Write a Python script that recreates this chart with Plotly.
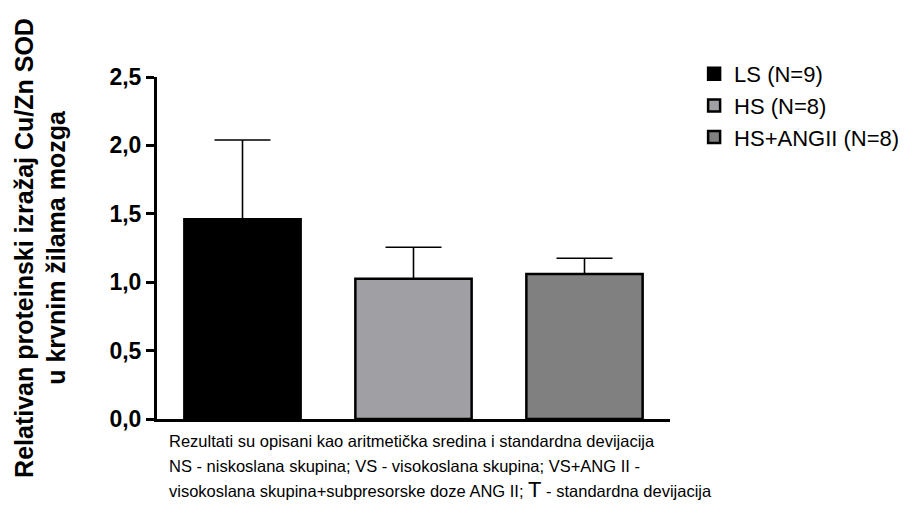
import plotly.graph_objects as go

groups = ["LS (N=9)", "HS (N=8)", "HS+ANGII (N=8)"]
categories = ["LS", "HS", "HS+ANGII"]
means = [1.46, 1.025, 1.06]
sds = [0.58, 0.23, 0.115]
colors = ["#000000", "#a0a0a4", "#808080"]
yticks = [0.0, 0.5, 1.0, 1.5, 2.0, 2.5]
caption_lines = [
    "Rezultati su opisani kao aritmetička sredina i standardna devijacija",
    "NS - niskoslana skupina; VS - visokoslana skupina; VS+ANG II -",
    "visokoslana skupina+subpresorske doze ANG II; <span style='font-size:22px'>T</span> - standardna devijacija",
]

FONT = "Liberation Sans, Arial, sans-serif"

# page body has an 8px margin, so the figure is a little smaller than the window
W, H = 903, 500
PLOT_L, PLOT_R, PLOT_T, PLOT_B = 149, 662, 69, 411
PLOT_H = PLOT_B - PLOT_T

fig = go.Figure()
for name, cat, m, s, c in zip(groups, categories, means, sds, colors):
    fig.add_trace(go.Bar(
        x=[cat], y=[m], name=name, width=0.68,
        marker=dict(color=c, line=dict(color="#000000", width=2.5)),
        error_y=dict(type="data", array=[s], arrayminus=[0], symmetric=False,
                     color="#000000", thickness=1.6, width=28),
    ))

fig.update_layout(
    width=W, height=H,
    margin=dict(l=PLOT_L, r=W - PLOT_R, t=PLOT_T, b=H - PLOT_B, autoexpand=False),
    paper_bgcolor="white", plot_bgcolor="white",
    barmode="overlay",
    separators=", ",
    showlegend=True,
    legend=dict(x=1.047, y=1.07, xanchor="left", yanchor="top",
                font=dict(family=FONT, size=22, color="#000000"),
                bgcolor="rgba(0,0,0,0)", tracegroupgap=0),
    font=dict(family=FONT, color="#000000"),
)
fig.update_xaxes(
    type="category", range=[-0.5, 2.5], automargin=False,
    showticklabels=False, ticks="", showgrid=False, zeroline=False,
    showline=True, linecolor="#000000", linewidth=3,
)
fig.update_yaxes(
    range=[0, 2.5], tickvals=yticks, tickformat=".1f", automargin=False,
    ticks="outside", ticklen=8, tickwidth=3, tickcolor="#000000",
    showgrid=False, zeroline=False,
    showline=True, linecolor="#000000", linewidth=3,
    tickfont=dict(family=FONT, size=23, color="#000000", weight="bold"),
    title=dict(text="<b>Relativan proteinski izražaj Cu/Zn SOD<br>u krvnim žilama mozga</b>",
               font=dict(family=FONT, size=25, color="#000000"), standoff=37),
)
for i, line in enumerate(caption_lines):
    fig.add_annotation(
        xref="paper", yref="paper", x=0.0195, y=-(433 + 24.5 * i - PLOT_B) / PLOT_H,
        xanchor="left", yanchor="middle",
        align="left", showarrow=False,
        font=dict(family=FONT, size=16.5, color="#000000"),
        text=line,
    )

fig.write_html("out.html")
